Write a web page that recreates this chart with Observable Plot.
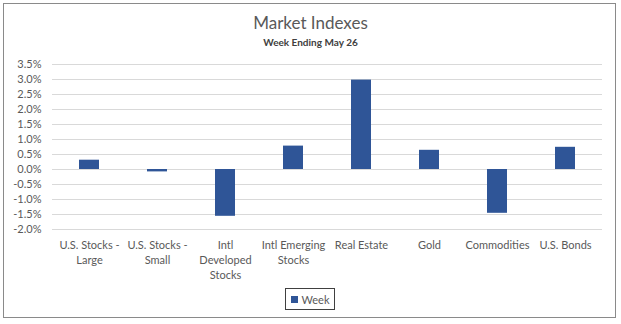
<!DOCTYPE html>
<html>
<head>
<meta charset="utf-8">
<script src="https://cdn.jsdelivr.net/npm/d3@7"></script>
<script src="https://cdn.jsdelivr.net/npm/@observablehq/plot@0.6"></script>
<style>
  html, body { margin: 0; padding: 0; background: #fff; }
  #wrap { position: relative; width: 621px; height: 324px; font-family: Lato, "Open Sans", sans-serif; }
  #frame { position: absolute; left: 3px; top: 3px; width: 611px; height: 313px; border: 1.5px solid #8a8a8a; pointer-events: none; }
  #title { position: absolute; left: 0; width: 621px; top: 12px; text-align: center; font-size: 17px; color: #595959; }
  #subtitle { position: absolute; left: 0; width: 621px; top: 36px; text-align: center; font-size: 10px; font-weight: bold; color: #404040; }
  #legend { position: absolute; left: 285px; top: 288px; width: 50px; height: 22px; border: 1px solid #404040; box-sizing: border-box; font-size: 11px; color: #595959; display: flex; align-items: center; justify-content: center; gap: 4px; }
  #legend span.sw { width: 7px; height: 7px; background: #2F5597; display: inline-block; }
  #chart { position: absolute; left: 0; top: 0; }
</style>
</head>
<body>
<div id="wrap">
  <div id="chart"></div>
  <div id="title">Market Indexes</div>
  <div id="subtitle">Week Ending May 26</div>
  <div id="legend"><span class="sw"></span><span>Week</span></div>
  <div id="frame"></div>
</div>
<script>
const categories = ["U.S. Stocks - Large", "U.S. Stocks - Small", "Intl Developed Stocks", "Intl Emerging Stocks", "Real Estate", "Gold", "Commodities", "U.S. Bonds"];
const categoryLabels = ["U.S. Stocks -\nLarge", "U.S. Stocks -\nSmall", "Intl\nDeveloped\nStocks", "Intl Emerging\nStocks", "Real Estate", "Gold", "Commodities", "U.S. Bonds"];
const weekValues = [0.31, -0.08, -1.56, 0.78, 2.98, 0.64, -1.46, 0.74];
const yTicks = [-2.0, -1.5, -1.0, -0.5, 0.0, 0.5, 1.0, 1.5, 2.0, 2.5, 3.0, 3.5];

const data = categories.map((c, i) => ({category: c, value: weekValues[i]}));
const labelOf = new Map(categories.map((c, i) => [c, categoryLabels[i]]));

const chart = Plot.plot({
  width: 621,
  height: 324,
  marginLeft: 52,
  marginRight: 19,
  marginTop: 64,
  marginBottom: 95,
  style: {fontFamily: "Lato, 'Open Sans', sans-serif", fontSize: "11px", color: "#595959", background: "transparent"},
  x: {domain: categories, paddingInner: 0.7, paddingOuter: 0.35, label: null},
  y: {domain: [-2.0, 3.5], label: null},
  marks: [
    Plot.gridY(yTicks, {stroke: "#d9d9d9", strokeOpacity: 1, strokeWidth: 1}),
    Plot.barY(data, {x: "category", y: "value", fill: "#2F5597"}),
    Plot.axisY(yTicks, {tickSize: 0, tickPadding: 11, tickFormat: d => d.toFixed(1) + "%", fill: "#595959", fontSize: 11}),
    Plot.axisX({tickSize: 0, tickPadding: 9, tickFormat: d => labelOf.get(d), fill: "#595959", fontSize: 11, lineHeight: 1.35})
  ]
});
document.getElementById("chart").appendChild(chart);
</script>
</body>
</html>
